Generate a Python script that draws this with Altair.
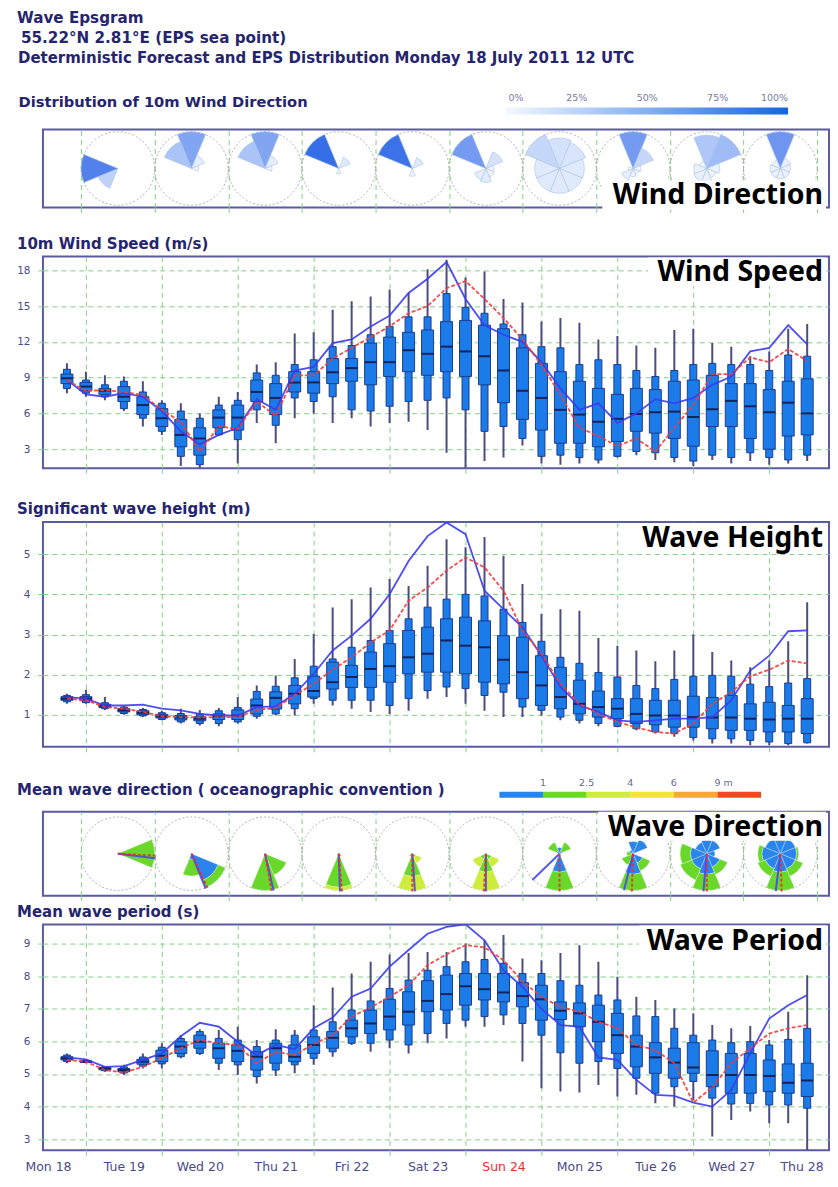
import altair as alt
import pandas as pd

# ------------------------------------------------------------------ texts
HEAD_LINES = ["Wave Epsgram", " 55.22°N 2.81°E (EPS sea point)",
              "Deterministic Forecast and EPS Distribution Monday 18 July 2011 12 UTC"]
WDIR_TITLE = "Distribution of 10m Wind Direction"
WSPD_TITLE = "10m Wind Speed (m/s)"
HS_TITLE = "Significant wave height (m)"
MWD_TITLE = "Mean wave direction ( oceanographic convention )"
MWP_TITLE = "Mean wave period (s)"
TAGS = ["Wind Direction", "Wind Speed", "Wave Height", "Wave Direction", "Wave Period"]

DAYS = ["Mon 18", "Tue 19", "Wed 20", "Thu 21", "Fri 22", "Sat 23",
        "Sun 24", "Mon 25", "Tue 26", "Wed 27", "Thu 28"]
DAY_HOURS = [0, 24, 48, 72, 96, 120, 144, 168, 192, 216, 240]          # 12 UTC of each day
MIDNIGHT_HOURS = [12, 36, 60, 84, 108, 132, 156, 180, 204, 228]      # 00 UTC
RED_DAY_HOUR = 144
STEPS = list(range(6, 241, 6))                                        # forecast steps (h)

PCT_TICKS = [0, 25, 50, 75, 100]
PCT_LABELS = ["0%", "25%", "50%", "75%", "100%"]
WAVE_CLASSES = ["0-1", "1-2.5", "2.5-4", "4-6", "6-9", ">9"]
WAVE_COLORS = ["#2a84ea", "#6ad82a", "#cdec3c", "#f3e434", "#f2a83a", "#ee4a22"]
WAVE_BOUNDS = [1, 2, 3, 4, 5]
WAVE_BOUND_LABELS = ["1", "2.5", "4", "6", "9 m"]

ROSE_SLOTS = [1, 2, 3, 4, 5, 6, 7, 8, 9, 10]
ROSE_GRID = [0.5, 1.5, 2.5, 3.5, 4.5, 5.5, 6.5, 7.5, 8.5, 9.5, 10.5]
COMPASS = [0, 45, 90, 135, 180, 225, 270, 315]

# ------------------------------------------------------------------ wind roses (% per sector N..NW)
WIND_ROSE_1 = [0, 0, 0, 0, 0, 26, 78, 0]
WIND_ROSE_2 = [55, 8, 2, 0, 0, 0, 0, 35]
WIND_ROSE_3 = [55, 8, 2, 0, 0, 0, 0, 35]
WIND_ROSE_4 = [0, 10, 0, 0, 2, 0, 0, 90]
WIND_ROSE_5 = [0, 9, 0, 0, 4, 0, 0, 88]
WIND_ROSE_6 = [0, 15, 3, 4, 9, 7, 0, 62]
WIND_ROSE_7 = [15, 13, 10, 10, 10, 10, 10, 22]
WIND_ROSE_8 = [62, 22, 3, 2, 3, 7, 1, 0]
WIND_ROSE_9 = [33, 40, 5, 3, 6, 6, 5, 2]
WIND_ROSE_10 = [65, 6, 5, 5, 5, 5, 5, 4]
WIND_ROSES = [WIND_ROSE_1, WIND_ROSE_2, WIND_ROSE_3, WIND_ROSE_4, WIND_ROSE_5,
              WIND_ROSE_6, WIND_ROSE_7, WIND_ROSE_8, WIND_ROSE_9, WIND_ROSE_10]

# ------------------------------------------------------------------ 10m wind speed
WS_MIN = [7.7, 7.4, 7.1, 6.2, 4.9, 4.2, 1.6, 1.4, 4.1, 1.8, 5.2, 3.5, 5.6, 6.0, 5.2, 5.6, 4.9, 5.2, 5.3, 4.6,
          2.7, 1.3, 2.0, 2.3, 3.3, 1.8, 1.7, 1.8, 1.8, 2.3, 2.5, 2.1, 1.9, 1.6, 2.1, 1.8, 2.0, 1.7, 1.8, 2.0]
WS_P10 = [8.1, 7.7, 7.4, 6.4, 5.6, 4.5, 2.4, 1.7, 4.2, 3.8, 6.3, 5.0, 7.3, 7.0, 7.4, 6.3, 6.2, 6.6, 7.0, 7.1,
          7.3, 6.3, 4.5, 4.9, 3.9, 2.4, 2.5, 2.3, 2.1, 2.4, 2.8, 2.7, 2.3, 2.0, 2.5, 2.3, 2.7, 2.3, 2.1, 2.5]
WS_P25 = [8.5, 7.9, 7.6, 7.0, 5.9, 4.9, 3.2, 2.5, 4.8, 4.6, 7.0, 5.9, 7.8, 7.7, 8.5, 8.7, 8.4, 9.1, 9.5, 9.2,
          9.5, 9.1, 8.4, 6.9, 5.5, 4.6, 3.5, 3.5, 3.2, 3.65, 4.5, 4.35, 3.9, 3.25, 4.9, 4.9, 3.9, 3.0, 4.1, 4.2]
WS_MED = [8.95, 8.25, 7.9, 7.4, 6.7, 5.6, 4.2, 3.9, 5.65, 5.65, 7.8, 7.3, 8.6, 8.6, 9.45, 9.8, 10.3, 10.3, 11.3, 11.0,
          11.6, 11.2, 10.8, 9.6, 7.9, 7.3, 6.3, 5.9, 5.3, 5.55, 5.95, 6.1, 6.15, 5.7, 6.35, 7.05, 6.6, 6.1, 6.9, 6.0]
WS_P75 = [9.3, 8.6, 8.1, 8.25, 7.4, 6.4, 5.5, 4.8, 6.3, 6.7, 8.8, 8.5, 9.5, 9.5, 10.6, 10.6, 11.9, 12.4, 12.8, 13.0,
          13.7, 13.8, 13.4, 13.1, 11.5, 10.2, 9.5, 8.7, 8.1, 7.6, 8.1, 8.0, 8.7, 8.8, 9.2, 8.5, 8.5, 8.0, 8.7, 8.9]
WS_P90 = [9.7, 8.8, 8.4, 8.7, 7.8, 6.85, 6.2, 5.6, 6.7, 7.1, 9.4, 9.2, 10.1, 10.5, 11.6, 11.7, 12.6, 13.3, 14.1, 14.1,
          16.05, 14.9, 14.4, 13.5, 12.6, 11.6, 11.5, 10.1, 10.5, 10.1, 9.6, 9.1, 9.6, 10.1, 10.2, 10.1, 10.1, 9.6, 10.9, 10.8]
WS_MAX = [10.2, 9.5, 9.2, 9.1, 8.7, 7.1, 6.85, 6.0, 7.4, 7.8, 10.1, 10.3, 12.7, 12.8, 14.7, 15.4, 15.8, 16.4, 16.1, 18.1,
          18.9, 17.4, 17.9, 15.6, 15.3, 13.7, 14.0, 13.6, 12.2, 12.5, 11.7, 11.5, 13.0, 13.1, 11.9, 11.6, 10.8, 11.2, 13.1, 13.5]
WS_HRES = [8.8, 7.6, 7.4, 7.7, 7.4, 6.2, 4.5, 3.4, 4.2, 4.8, 7.2, 6.3, 9.6, 9.9, 11.9, 12.2, 13.3, 14.2, 16.1, 17.3,
           18.7, 15.6, 13.4, 12.6, 12.0, 10.3, 8.1, 6.3, 6.85, 5.2, 6.0, 7.2, 6.85, 7.3, 8.4, 9.1, 11.2, 11.5, 13.4, 11.8]
WS_CTRL = [8.8, 7.9, 7.95, 7.8, 7.55, 6.3, 5.3, 2.8, 4.9, 4.7, 7.0, 5.8, 9.2, 9.2, 10.6, 11.5, 12.4, 13.3, 14.4, 15.0,
           16.5, 17.1, 15.6, 14.0, 12.2, 10.1, 7.55, 4.8, 4.1, 3.25, 3.9, 2.8, 4.8, 6.7, 9.3, 9.3, 10.7, 10.3, 11.4, 10.4]
WS_TICKS = [3, 6, 9, 12, 15, 18]

# ------------------------------------------------------------------ significant wave height
HS_MIN = [1.27, 1.27, 1.12, 1.00, 0.94, 0.86, 0.78, 0.73, 0.71, 0.78, 0.90, 0.98, 0.98, 1.27, 1.23, 1.15, 1.07, 1.02, 1.10, 1.40,
          1.44, 1.27, 1.10, 0.94, 0.94, 0.98, 0.86, 0.78, 0.71, 0.69, 0.61, 0.53, 0.45, 0.36, 0.28, 0.28, 0.24, 0.24, 0.24, 0.28]
HS_P10 = [1.32, 1.30, 1.15, 1.03, 0.97, 0.88, 0.82, 0.78, 0.78, 0.82, 0.96, 1.02, 1.15, 1.40, 1.36, 1.36, 1.36, 1.23, 1.40, 1.60,
          1.69, 1.65, 1.48, 1.56, 1.19, 1.11, 0.94, 0.86, 0.78, 0.71, 0.65, 0.57, 0.53, 0.43, 0.40, 0.40, 0.36, 0.32, 0.28, 0.30]
HS_P25 = [1.36, 1.35, 1.18, 1.07, 1.00, 0.92, 0.87, 0.85, 0.88, 0.88, 1.02, 1.14, 1.27, 1.44, 1.64, 1.68, 1.68, 1.81, 2.02, 2.06,
          2.06, 2.02, 1.81, 1.77, 1.40, 1.23, 1.15, 1.02, 0.94, 0.90, 0.78, 0.75, 0.69, 0.69, 0.65, 0.61, 0.61, 0.57, 0.57, 0.53]
HS_MED = [1.40, 1.40, 1.22, 1.11, 1.05, 0.96, 0.93, 0.90, 0.96, 0.98, 1.23, 1.42, 1.52, 1.59, 1.81, 1.94, 2.14, 2.21, 2.43, 2.52,
          2.85, 2.72, 2.68, 2.37, 2.06, 1.73, 1.44, 1.27, 1.19, 1.15, 1.02, 0.98, 0.98, 0.94, 0.93, 0.93, 0.90, 0.88, 0.90, 0.90]
HS_P75 = [1.45, 1.45, 1.26, 1.15, 1.10, 1.01, 0.98, 0.95, 1.02, 1.12, 1.39, 1.57, 1.73, 1.96, 2.31, 2.23, 2.56, 2.77, 3.10, 3.18,
          3.39, 3.43, 3.34, 2.97, 2.93, 2.47, 2.18, 1.86, 1.59, 1.40, 1.40, 1.36, 1.36, 1.46, 1.43, 1.48, 1.27, 1.31, 1.23, 1.40]
HS_P90 = [1.48, 1.50, 1.30, 1.19, 1.13, 1.05, 1.03, 1.02, 1.10, 1.18, 1.58, 1.71, 1.92, 2.21, 2.39, 2.68, 2.85, 3.10, 3.39, 3.68,
          3.88, 4.00, 3.96, 3.63, 3.30, 2.83, 2.43, 2.28, 2.05, 1.94, 1.73, 1.65, 1.88, 1.96, 1.98, 1.96, 1.76, 1.70, 1.79, 1.90]
HS_MAX = [1.52, 1.62, 1.44, 1.23, 1.17, 1.10, 1.15, 1.12, 1.17, 1.44, 1.73, 1.98, 2.39, 3.01, 3.67, 3.88, 4.17, 4.38, 4.21, 4.71,
          5.37, 5.17, 5.43, 4.96, 4.26, 3.51, 3.63, 3.59, 2.91, 2.72, 2.60, 2.33, 2.60, 3.00, 2.56, 2.35, 2.18, 2.35, 2.83, 3.80]
HS_HRES = [1.44, 1.40, 1.23, 1.23, 1.25, 1.15, 1.11, 1.02, 0.98, 0.98, 1.19, 1.21, 1.52, 2.02, 2.60, 2.97, 3.39, 4.00, 4.83, 5.45,
           5.79, 5.50, 4.09, 3.63, 3.18, 2.47, 1.69, 1.23, 1.07, 0.86, 0.82, 0.86, 0.90, 0.90, 0.94, 1.36, 2.10, 2.47, 3.08, 3.10]
HS_CTRL = [1.40, 1.36, 1.19, 1.15, 1.07, 0.96, 0.94, 0.93, 0.94, 0.94, 1.12, 1.17, 1.48, 1.77, 2.12, 2.43, 2.80, 3.10, 3.84, 4.17,
           4.59, 4.92, 4.67, 4.09, 3.10, 2.52, 1.77, 1.27, 1.02, 0.82, 0.68, 0.57, 0.53, 0.78, 1.27, 1.56, 1.96, 2.12, 2.35, 2.28]
HS_TICKS = [1, 2, 3, 4, 5]

# ------------------------------------------------------------------ mean wave direction roses (dir, class, %)
WAVE_ROSE_1 = [(90, 0, 4), (90, 1, 86), (0, 0, 3)]
WAVE_ROSE_2 = [(135, 0, 52), (135, 1, 14), (180, 0, 10), (180, 1, 30)]
WAVE_ROSE_3 = [(180, 0, 6), (180, 1, 74), (135, 1, 50)]
WAVE_ROSE_4 = [(180, 1, 80), (180, 2, 8), (135, 1, 8), (45, 1, 4)]
WAVE_ROSE_5 = [(180, 1, 55), (180, 2, 35), (135, 1, 10), (135, 2, 15), (225, 1, 8)]
WAVE_ROSE_6 = [(180, 1, 45), (180, 2, 45), (135, 1, 15), (135, 2, 20), (225, 1, 15), (225, 2, 20)]
WAVE_ROSE_7 = [(180, 0, 45), (180, 1, 45), (0, 0, 15), (45, 0, 8), (45, 1, 22), (315, 0, 8), (315, 1, 22)]
WAVE_ROSE_8 = [(180, 0, 50), (180, 1, 40), (0, 0, 30), (45, 0, 38), (135, 0, 25), (135, 1, 20),
               (225, 1, 30), (270, 1, 15), (315, 0, 10)]
WAVE_ROSE_9 = [(180, 0, 50), (180, 1, 40), (225, 0, 40), (225, 1, 30), (270, 0, 40), (270, 1, 25), (315, 0, 30),
               (0, 0, 35), (0, 1, 8), (45, 0, 35), (90, 0, 20), (135, 0, 35), (135, 1, 20)]
WAVE_ROSE_10 = [(180, 0, 45), (180, 1, 45), (225, 0, 40), (225, 1, 20), (270, 0, 45), (270, 1, 10), (315, 0, 40),
                (0, 0, 45), (0, 1, 8), (45, 0, 40), (90, 0, 40), (90, 1, 5), (135, 0, 40), (135, 1, 20)]
WAVE_ROSES = [WAVE_ROSE_1, WAVE_ROSE_2, WAVE_ROSE_3, WAVE_ROSE_4, WAVE_ROSE_5,
              WAVE_ROSE_6, WAVE_ROSE_7, WAVE_ROSE_8, WAVE_ROSE_9, WAVE_ROSE_10]
WAVE_DIR_HRES = [97, 158, 167, 178, 176, 180, 226, 194, 185, 187]
WAVE_DIR_CTRL = [93, 155, 170, 175, 180, 183, 180, 182, 180, 178]

# ------------------------------------------------------------------ mean wave period
MWP_MIN = [5.33, 5.33, 5.07, 4.97, 5.17, 5.17, 5.48, 5.58, 5.12, 4.97, 4.71, 4.94, 5.02, 5.28, 5.53, 5.89, 5.68, 5.79, 5.63, 5.94,
           6.09, 6.45, 6.45, 6.50, 5.38, 4.56, 4.46, 4.43, 4.66, 4.31, 4.36, 4.10, 4.00, 4.20, 3.08, 3.59, 3.85, 3.49, 3.49, 2.67]
MWP_P10 = [5.38, 5.35, 5.10, 5.03, 5.24, 5.31, 5.53, 5.63, 5.33, 5.28, 4.92, 5.12, 5.28, 5.48, 5.68, 5.94, 5.94, 6.04, 5.89, 6.24,
           6.55, 6.65, 6.76, 6.81, 6.55, 6.19, 5.65, 5.33, 5.38, 5.17, 4.87, 4.41, 4.61, 4.77, 4.26, 4.08, 4.10, 4.05, 4.05, 3.95]
MWP_P25 = [5.43, 5.36, 5.13, 5.07, 5.30, 5.38, 5.63, 5.79, 5.48, 5.38, 5.12, 5.33, 5.38, 5.63, 5.79, 6.14, 6.24, 6.35, 6.50, 6.91,
           6.96, 7.11, 7.27, 7.21, 7.06, 6.65, 6.67, 6.45, 5.99, 5.63, 5.22, 5.02, 4.87, 5.02, 4.61, 4.41, 4.41, 4.46, 4.41, 4.31]
MWP_MED = [5.48, 5.38, 5.17, 5.12, 5.38, 5.56, 5.84, 5.99, 5.79, 5.71, 5.53, 5.79, 5.53, 5.89, 6.11, 6.40, 6.55, 6.76, 6.91, 7.24,
           7.45, 7.69, 7.60, 7.50, 7.39, 7.29, 6.94, 6.86, 6.60, 6.19, 5.84, 5.51, 5.35, 5.20, 4.97, 4.97, 4.97, 4.94, 4.73, 4.80]
MWP_P75 = [5.53, 5.40, 5.20, 5.17, 5.45, 5.73, 5.99, 6.19, 5.94, 5.89, 5.68, 5.94, 5.89, 6.14, 6.30, 6.65, 6.96, 7.29, 7.52, 7.86,
           8.03, 8.08, 8.08, 8.08, 7.80, 7.72, 7.21, 7.18, 7.11, 6.86, 6.19, 5.96, 5.79, 5.96, 5.71, 5.63, 5.63, 5.43, 5.31, 5.33]
MWP_P90 = [5.58, 5.42, 5.22, 5.22, 5.52, 5.82, 6.09, 6.30, 6.09, 6.04, 5.84, 6.04, 6.19, 6.35, 6.60, 6.96, 7.24, 7.62, 7.88, 8.18,
           8.29, 8.44, 8.51, 8.39, 8.08, 8.08, 7.86, 7.72, 7.42, 7.27, 6.78, 6.76, 6.40, 6.19, 6.04, 5.96, 5.99, 5.89, 6.06, 6.40]
MWP_MAX = [5.63, 5.45, 5.24, 5.28, 5.63, 5.94, 6.19, 6.37, 6.35, 6.45, 6.04, 6.37, 6.35, 7.11, 7.65, 8.08, 8.44, 8.66, 8.71, 8.74,
           8.74, 9.00, 9.10, 9.26, 8.54, 8.49, 8.71, 8.95, 8.44, 7.98, 7.37, 7.27, 7.01, 6.86, 6.50, 6.40, 6.47, 6.04, 6.91, 8.03]
MWP_HRES = [5.51, 5.45, 5.22, 5.24, 5.43, 5.63, 6.16, 6.57, 6.45, 5.99, 5.58, 5.89, 5.76, 6.40, 6.73, 7.37, 7.62, 8.29, 8.80, 9.30,
            9.51, 9.59, 9.10, 8.18, 7.67, 7.00, 6.50, 6.45, 5.51, 5.43, 4.82, 4.36, 4.33, 4.12, 4.00, 4.51, 5.63, 6.70, 7.11, 7.42]
MWP_CTRL = [5.43, 5.38, 5.12, 5.04, 5.22, 5.48, 5.79, 6.04, 5.94, 5.89, 5.33, 5.68, 5.58, 5.92, 6.19, 6.76, 7.04, 7.37, 7.72, 8.34,
            8.67, 8.95, 8.88, 8.49, 7.83, 7.37, 7.05, 6.91, 6.60, 6.40, 5.89, 5.73, 5.33, 4.12, 4.59, 5.33, 5.79, 6.24, 6.40, 6.50]
MWP_TICKS = [3, 4, 5, 6, 7, 8, 9]

# ------------------------------------------------------------------ style / layout
W = 787                       # plot width (px); keeps the page inside the 838 px window
PX_PER_HOUR = 3.2081
PX_PER_SLOT = 73.698
FONT = "DejaVu Sans"
TAG_FONT = "Noto Sans"
NAVY = "#25256f"
AXIS_TXT = "#4a4a8c"
GRID = "#86cf86"
FRAME = "#5b5ba3"
BOX_FILL = "#1b7be8"
BOX_EDGE = "#1c3d8f"
MEDIAN = "#14235e"
WHISK = "#4c4c80"
HRES_C = "#3b3bf2"
CTRL_C = "#f23b3b"
ROSE_R = 36.8
DASH = [5, 4]
TAG_RIGHT = W - 6

time_scale = alt.Scale(domain=[0, W / PX_PER_HOUR], nice=False, zero=False)
rose_scale = alt.Scale(domain=[-0.0176, -0.0176 + W / PX_PER_SLOT], nice=False, zero=False)
theta_scale = alt.Scale(domain=[0, 360], range=[0, 6.283185307])
radius_scale = alt.Scale(type="linear", domain=[0, 1], range=[0, ROSE_R], zero=True)
angle_scale = alt.Scale(domain=[0, 360], range=[0, 360])


def text_layer(txt, x, y, size, color=NAVY, weight="bold", align="left", font=FONT):
    return alt.Chart(pd.DataFrame({"t": [txt]})).mark_text(
        align=align, baseline="alphabetic", font=font, fontSize=size,
        fontWeight=weight, color=color).encode(text="t:N", x=alt.value(x), y=alt.value(y))


def tag_layers(txt, base_y, width):
    box = alt.Chart(pd.DataFrame({"t": [txt]})).mark_rect(color="white").encode(
        x=alt.value(TAG_RIGHT - width - 6), x2=alt.value(W - 3),
        y=alt.value(base_y - 24), y2=alt.value(base_y + 5))
    return [box, text_layer(txt, TAG_RIGHT, base_y, 28.5, color="black", align="right", font=TAG_FONT)]


def time_axis(bottom):
    common = dict(grid=True, gridColor=GRID, gridDash=DASH, gridWidth=1, ticks=True, tickColor=GRID,
                  tickDash=DASH, tickSize=8, tickWidth=1, domain=False, title=None)
    if not bottom:
        return alt.Axis(values=MIDNIGHT_HOURS, labels=False, **common)
    is_mid = "datum.value % 24 == 12"
    last = "datum.value == %d" % DAY_HOURS[-1]
    names = "[" + ",".join("'%s'" % d for d in DAYS) + "]"
    return alt.Axis(values=sorted(DAY_HOURS + MIDNIGHT_HOURS),
                    labelExpr="datum.value % 24 == 0 ? " + names + "[datum.value / 24] : ''",
                    labelColor={"condition": {"test": "datum.value == %d" % RED_DAY_HOUR, "value": "#e8302c"},
                                "value": AXIS_TXT},
                    labelAlign={"condition": {"test": last, "value": "right"}, "value": "center"},
                    labelOffset={"condition": {"test": last, "value": 16}, "value": 0},
                    gridOpacity={"condition": {"test": is_mid, "value": 1}, "value": 0},
                    tickOpacity={"condition": {"test": is_mid, "value": 1}, "value": 0},
                    labelFlush=False, labelOverlap=False, labelPadding=2, labelFontSize=12.5,
                    labelFont=FONT, **common)


def y_axis(ticks):
    return alt.Axis(values=ticks, grid=True, gridColor=GRID, gridDash=DASH, gridWidth=1, ticks=True,
                    tickColor=GRID, tickDash=DASH, tickSize=8, labelPadding=5, labelFontSize=10.5,
                    labelFont=FONT, labelColor=AXIS_TXT, domain=False, title=None)


def box_panel(series, dom, ticks, h, tag, tag_w, bottom=False):
    mn, p10, p25, med, p75, p90, mx, hres, ctrl = series
    df = pd.DataFrame({"step": STEPS, "mn": mn, "p10": p10, "p25": p25, "med": med,
                       "p75": p75, "p90": p90, "mx": mx, "hres": hres, "ctrl": ctrl})
    ys = alt.Scale(domain=dom, nice=False, zero=False)
    xa, ya = time_axis(bottom), y_axis(ticks)
    X = alt.X("step:Q", scale=time_scale, axis=xa)

    def Y(f):
        return alt.Y(f, scale=ys, axis=ya)

    base = alt.Chart(df)
    whisk = base.mark_rule(color=WHISK, strokeWidth=2, clip=True).encode(x=X, y=Y("mn:Q"), y2="mx:Q")
    outer = base.mark_bar(size=7, color=BOX_FILL, stroke=BOX_EDGE, strokeWidth=1, clip=True).encode(
        x=X, y=Y("p10:Q"), y2="p90:Q")
    inner = base.mark_bar(size=12, color=BOX_FILL, stroke=BOX_EDGE, strokeWidth=1, clip=True).encode(
        x=X, y=Y("p25:Q"), y2="p75:Q")
    medn = base.mark_tick(orient="horizontal", size=12, thickness=2, color=MEDIAN, opacity=1).encode(
        x=X, y=Y("med:Q"))
    hl = base.mark_line(color=HRES_C, strokeWidth=1.8, opacity=0.9, clip=True).encode(x=X, y=Y("hres:Q"))
    cl = base.mark_line(color=CTRL_C, strokeWidth=1.8, strokeDash=[4, 2], opacity=0.9, clip=True).encode(
        x=X, y=Y("ctrl:Q"))
    return alt.layer(whisk, outer, inner, medn, hl, cl, *tag_layers(tag, 25, tag_w)).properties(
        width=W, height=h)


def rose_axis():
    return alt.Axis(values=ROSE_GRID, grid=True, gridColor=GRID, gridDash=DASH, gridWidth=1, ticks=True,
                    tickColor=GRID, tickDash=DASH, tickSize=8, labels=False, domain=False, title=None)


def rose_x():
    return alt.X("slot:Q", scale=rose_scale, axis=rose_axis(), stack=False)


def circles():
    return alt.Chart(pd.DataFrame({"slot": ROSE_SLOTS})).mark_point(
        shape="circle", size=(2 * ROSE_R) ** 2, filled=False, color="#b0b0b0", strokeDash=[2, 2],
        strokeWidth=1, opacity=1).encode(x=rose_x())


def wind_dir_panel(h):
    rows = []
    for slot, freqs in zip(ROSE_SLOTS, WIND_ROSES):
        for d, f in zip(COMPASS, freqs):
            if f > 0:
                rows.append({"slot": slot, "dir": d, "freq": f})
    df = pd.DataFrame(rows)
    arcs = alt.Chart(df).transform_joinaggregate(fmax="max(freq)", groupby=["slot"]).transform_calculate(
        t0="datum.dir - 22.5", t1="datum.dir + 22.5", r1="sqrt(datum.freq / datum.fmax)"
    ).mark_arc(stroke="#a9c2e3", strokeWidth=0.6).encode(
        x=rose_x(),
        theta=alt.Theta("t0:Q", scale=theta_scale), theta2="t1:Q",
        radius=alt.Radius("r1:Q", scale=radius_scale),
        color=alt.Color("freq:Q", scale=alt.Scale(domain=[0, 100], range=["#f6f9fe", "#0b5fe3"]), legend=None))
    tb, tt = tag_layers(TAGS[0], 75, 215)
    return alt.layer(circles(), arcs, tb, tt).properties(width=W, height=h)


def wave_dir_panel(h):
    rows = []
    for slot, items in zip(ROSE_SLOTS, WAVE_ROSES):
        for d, k, f in items:
            rows.append({"slot": slot, "dir": d, "k": k, "cls": WAVE_CLASSES[k], "freq": f})
    df = pd.DataFrame(rows)
    arcs = alt.Chart(df).transform_stack(
        stack="freq", groupby=["slot", "dir"], as_=["c0", "c1"], sort=[alt.SortField("k", order="ascending")]
    ).transform_joinaggregate(m="max(c1)", groupby=["slot"]).transform_calculate(
        t0="datum.dir - 22.5", t1="datum.dir + 22.5", r0="datum.c0 / datum.m", r1="datum.c1 / datum.m"
    ).mark_arc(stroke="#ffffff", strokeWidth=0.3).encode(
        x=rose_x(),
        theta=alt.Theta("t0:Q", scale=theta_scale), theta2="t1:Q",
        radius=alt.Radius("r1:Q", scale=radius_scale), radius2="r0:Q",
        color=alt.Color("cls:N", scale=alt.Scale(domain=WAVE_CLASSES, range=WAVE_COLORS), legend=None))
    ldf = pd.DataFrame({"slot": ROSE_SLOTS, "hres": WAVE_DIR_HRES, "ctrl": WAVE_DIR_CTRL})
    line_size = (2 * (ROSE_R + 1)) ** 2
    hl = alt.Chart(ldf).mark_point(shape="M0,0L0,-1", size=line_size, filled=False, color="#4848f0",
                                   strokeWidth=2, opacity=0.9).encode(
        x=rose_x(), angle=alt.Angle("hres:Q", scale=angle_scale))
    cl = alt.Chart(ldf).mark_point(shape="M0,0L0,-1", size=line_size, filled=False, color="#e8302c",
                                   strokeWidth=2, strokeDash=[3, 2], opacity=0.9).encode(
        x=rose_x(), angle=alt.Angle("ctrl:Q", scale=angle_scale))
    tb, tt = tag_layers(TAGS[3], 24, 219)
    return alt.layer(circles(), arcs, hl, cl, tb, tt).properties(width=W, height=h)


def header(h):
    pct = alt.Scale(domain=[0, 100], range=[464, 746])
    grad = alt.LinearGradient(gradient="linear", x1=0, x2=1, y1=0, y2=0,
                              stops=[alt.GradientStop(color="#f4f8fe", offset=0),
                                     alt.GradientStop(color="#1565e0", offset=1)])
    bar = alt.Chart(pd.DataFrame({"lo": [PCT_TICKS[0]], "hi": [PCT_TICKS[-1]]})).mark_rect(color=grad).encode(
        x=alt.X("lo:Q", scale=pct, axis=None), x2="hi:Q", y=alt.value(96), y2=alt.value(103))
    lab = pd.DataFrame({"v": PCT_TICKS, "t": PCT_LABELS})
    lab_style = dict(baseline="middle", font=FONT, fontSize=9.5, color="#7a7aa6")
    l0 = alt.Chart(lab.iloc[:1]).mark_text(align="left", dx=2, **lab_style).encode(
        x=alt.X("v:Q", scale=pct, axis=None), y=alt.value(86), text="t:N")
    l1 = alt.Chart(lab.iloc[1:-1]).mark_text(align="center", **lab_style).encode(
        x=alt.X("v:Q", scale=pct, axis=None), y=alt.value(86), text="t:N")
    l2 = alt.Chart(lab.iloc[-1:]).mark_text(align="right", **lab_style).encode(
        x=alt.X("v:Q", scale=pct, axis=None), y=alt.value(86), text="t:N")
    texts = [text_layer(HEAD_LINES[0], -26, 11.5, 15.2),
             text_layer(HEAD_LINES[1], -22, 31.5, 15.2),
             text_layer(HEAD_LINES[2], -25, 51.5, 15),
             text_layer(WDIR_TITLE, -24.5, 95, 14.7)]
    return alt.layer(bar, l0, l1, l2, *texts).properties(
        width=W, height=h, view=alt.ViewBackground(stroke="transparent"))


def gap(title, x, base_y, h, extra=()):
    return alt.layer(text_layer(title, x, base_y, 15), *extra).properties(
        width=W, height=h, view=alt.ViewBackground(stroke="transparent"))


def wave_legend():
    sc = alt.Scale(domain=[0, 6], range=[457, 719])
    seg = pd.DataFrame({"k": list(range(len(WAVE_CLASSES))), "cls": WAVE_CLASSES})
    bars = alt.Chart(seg).transform_calculate(k1="datum.k + 1").mark_rect().encode(
        x=alt.X("k:Q", scale=sc, axis=None), x2="k1:Q", y=alt.value(45), y2=alt.value(51),
        color=alt.Color("cls:N", scale=alt.Scale(domain=WAVE_CLASSES, range=WAVE_COLORS), legend=None))
    lab = pd.DataFrame({"v": WAVE_BOUNDS, "t": WAVE_BOUND_LABELS})
    st = dict(baseline="middle", font=FONT, fontSize=9.5, color="#6a6a8a")
    l1 = alt.Chart(lab.iloc[:-1]).mark_text(align="center", **st).encode(
        x=alt.X("v:Q", scale=sc, axis=None), y=alt.value(36), text="t:N")
    l2 = alt.Chart(lab.iloc[-1:]).mark_text(align="left", dx=-3, **st).encode(
        x=alt.X("v:Q", scale=sc, axis=None), y=alt.value(36), text="t:N")
    return [bars, l1, l2]


p_head = header(118)
p_wdir = wind_dir_panel(78)
g1 = gap(WSPD_TITLE, -26, 42, 49)
p_ws = box_panel([WS_MIN, WS_P10, WS_P25, WS_MED, WS_P75, WS_P90, WS_MAX, WS_HRES, WS_CTRL],
                 [1.41, 19.17], WS_TICKS, 212, TAGS[1], 169)
g2 = gap(HS_TITLE, -26, 46, 54)
p_hs = box_panel([HS_MIN, HS_P10, HS_P25, HS_MED, HS_P75, HS_P90, HS_MAX, HS_HRES, HS_CTRL],
                 [0.2, 5.8], HS_TICKS, 225, TAGS[2], 181)
g3 = gap(MWD_TITLE, -26, 48, 65, wave_legend())
p_wd = wave_dir_panel(84)
g4 = gap(MWP_TITLE, -26, 21, 29)
p_mwp = box_panel([MWP_MIN, MWP_P10, MWP_P25, MWP_MED, MWP_P75, MWP_P90, MWP_MAX, MWP_HRES, MWP_CTRL],
                  [2.66, 9.58], MWP_TICKS, 226, TAGS[4], 178, bottom=True)

chart = alt.vconcat(p_head, p_wdir, g1, p_ws, g2, p_hs, g3, p_wd, g4, p_mwp, spacing=0, bounds="flush").properties(
    padding={"left": 7, "top": 1, "right": 0, "bottom": 0}
).configure(font=FONT).configure_view(stroke=FRAME, strokeWidth=2)

chart.save("out.html", embed_options={"renderer": "svg", "actions": False})
